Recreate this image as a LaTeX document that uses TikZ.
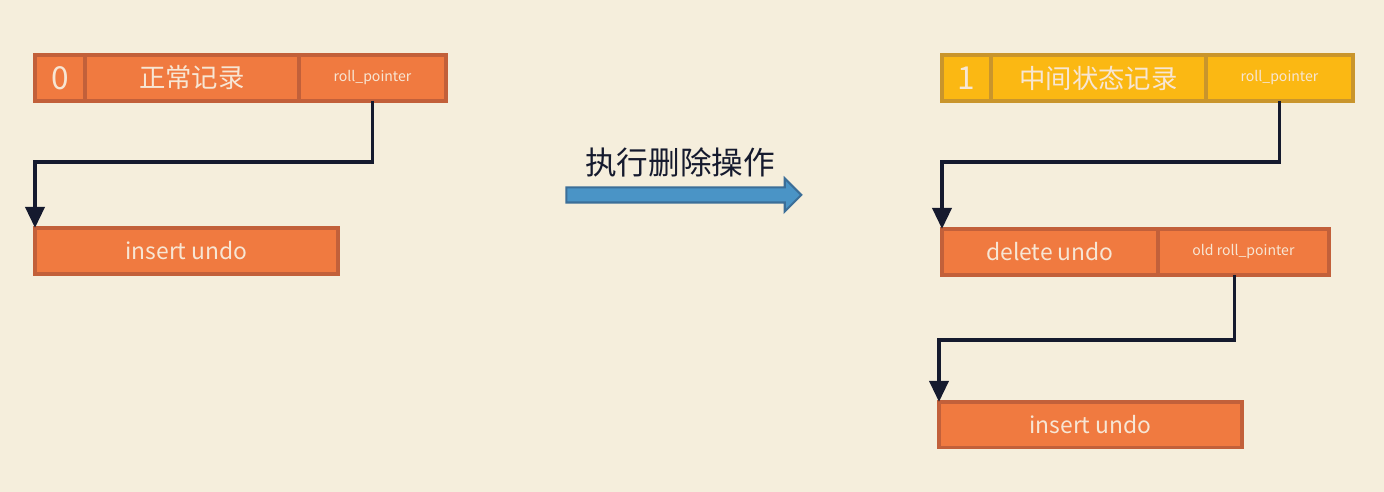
\documentclass[tikz,border=0pt]{standalone}
\usepackage{fontspec}
\setmainfont{Noto Sans CJK SC}
\usetikzlibrary{arrows.meta,positioning,calc,shapes.arrows}
\definecolor{paper}{HTML}{F5EEDC}
\definecolor{rec}{HTML}{F07A40}
\definecolor{recline}{HTML}{C2603A}
\definecolor{midrec}{HTML}{FBB813}
\definecolor{midline}{HTML}{C9952C}
\definecolor{ink}{HTML}{151A2E}
\definecolor{cream}{HTML}{F7E6D4}
\definecolor{act}{HTML}{4A94C6}
\definecolor{actline}{HTML}{3B6E98}

\begin{document}
\begin{tikzpicture}[x=0.02cm,y=-0.02cm,>={Triangle[width=0.38cm,length=0.42cm]},
  every node/.style={outer sep=0pt,inner sep=0pt,minimum height=0.92cm,text=cream},
  cell/.style={draw=recline,fill=rec,line width=1.8pt},
  midcell/.style={draw=midline,fill=midrec,line width=1.8pt},
  big/.style={font=\fontsize{15}{18}\selectfont},
  num/.style={font=\fontsize{18}{20}\selectfont},
  med/.style={font=\fontsize{13}{16}\selectfont},
  small/.style={font=\fontsize{8}{10}\selectfont},
  link/.style={->,draw=ink,line width=2.1pt}]
\fill[paper] (0,0) rectangle (1384,492);
\useasboundingbox (0,0) rectangle (1384,492);
% normal record and its undo
\node[cell,num,minimum width=1cm,anchor=north west] (zero) at (35,55) {0};
\node[cell,big,minimum width=4.28cm,right=0pt of zero] (normal) {正常记录};
\node[cell,small,minimum width=2.94cm,right=0pt of normal] (ptrA) {roll\_pointer};
\node[cell,med,minimum width=6.06cm,below=2.54cm of zero.south west,anchor=north west] (insA) {insert undo};
% record after delete
\node[midcell,num,minimum width=0.98cm,anchor=north west] (one) at (942,55) {1};
\node[midcell,big,minimum width=4.3cm,right=0pt of one] (state) {中间状态记录};
\node[midcell,small,minimum width=2.94cm,right=0pt of state] (ptrB) {roll\_pointer};
\node[cell,med,minimum width=4.32cm,below=2.56cm of one.south west,anchor=north west] (delB) {delete undo};
\node[cell,small,minimum width=3.42cm,right=0pt of delB] (oldptr) {old roll\_pointer};
\node[cell,med,minimum width=6.06cm,below=2.54cm of delB.south west,anchor=north west,xshift=-0.06cm] (insB) {insert undo};
% operation
\node[single arrow,draw=actline,fill=act,line width=1.2pt,minimum height=4.7cm,minimum width=0pt,
  inner ysep=0.13cm,single arrow head extend=0.18cm,single arrow tip angle=90] (del) at (680,195) {};
\node[minimum height=0pt,text=ink,font=\fontsize{18}{22}\selectfont] (dellabel) at (680,162) {执行删除操作};
\draw[link] (ptrA.south) -- ++(0,61) -| (insA.north west);
\draw[link] (ptrB.south) -- ++(0,61) -| (delB.north west);
\draw[link] ([xshift=-0.18cm]oldptr.south) -- ++(0,65) -| (insB.north west);
\end{tikzpicture}
\end{document}
